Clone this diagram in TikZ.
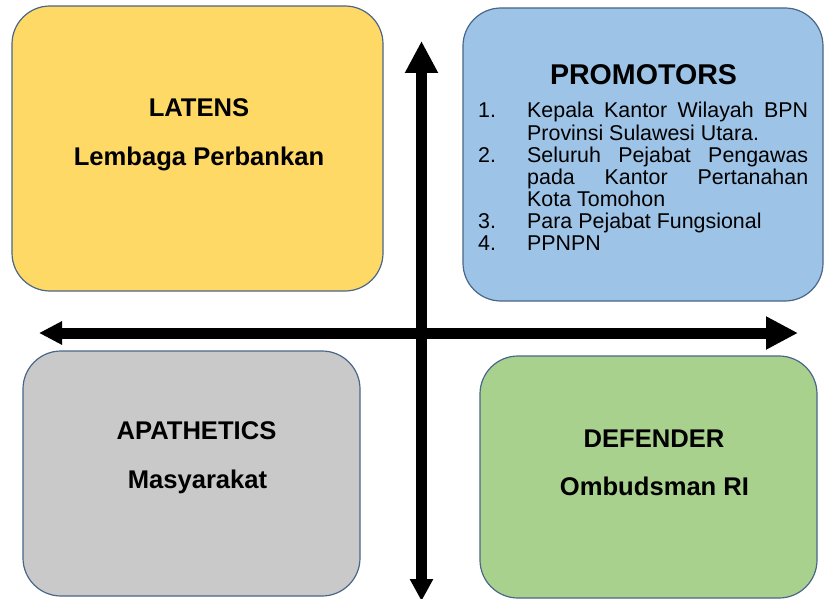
\documentclass[tikz,border=0pt]{standalone}
\usepackage{fontspec}
\setmainfont{Liberation Sans}
\usetikzlibrary{arrows.meta}
\definecolor{bordc}{HTML}{4A6688}
\definecolor{yellowc}{HTML}{FFD966}
\definecolor{bluec}{HTML}{9DC3E6}
\definecolor{greyc}{HTML}{C9C9C9}
\definecolor{greenc}{HTML}{A9D18E}
\tikzset{
  quad/.style={draw=bordc, line width=1.2pt, rounded corners=38pt, inner sep=0pt},
  titletext/.style={anchor=base, inner sep=0pt, font=\fontsize{25.6}{30}\selectfont\bfseries},
  axis/.style={line width=11pt},
}
\begin{document}
\begin{tikzpicture}[x=1pt,y=-1pt]
\useasboundingbox (0,0) rectangle (825,599);
\fill[white] (0,0) rectangle (825,599);
% boxes
\node[quad, fill=yellowc, minimum width=371pt, minimum height=285pt] (latens) at (197.5,148.5) {};
\node[quad, fill=bluec, minimum width=360pt, minimum height=293pt] (promotors) at (643,154.5) {};
\node[quad, fill=greyc, minimum width=337pt, minimum height=245pt] (apathetics) at (191.5,473.5) {};
\node[quad, fill=greenc, minimum width=337pt, minimum height=242pt] (defender) at (648.5,477) {};
% texts
\node[titletext] (latt) at (199,117) {LATENS};
\node[titletext] (lats) at (199,166) {Lembaga Perbankan};
\node[titletext] (apat) at (196.5,439) {APATHETICS};
\node[titletext] (apas) at (197.5,488) {Masyarakat};
\node[titletext] (deft) at (654,447) {DEFENDER};
\node[titletext] (defs) at (654.5,495) {Ombudsman RI};
\node[titletext, font=\fontsize{28.6}{32}\selectfont\bfseries] (prot) at (643.5,85) {PROMOTORS};
\node[anchor=base west, inner sep=0pt, font=\fontsize{21.4}{21.9}\selectfont] (prol) at (478,118) {%
\renewcommand{\arraystretch}{1}%
\begin{tabular}[t]{@{}l@{}l@{}}
\makebox[49pt][l]{1.} & \hbox to 281pt{Kepala\hfill Kantor\hfill Wilayah\hfill BPN}\\
 & Provinsi Sulawesi Utara.\\
\makebox[49pt][l]{2.} & \hbox to 281pt{Seluruh\hfill Pejabat\hfill Pengawas}\\
 & \hbox to 281pt{pada\hfill Kantor\hfill Pertanahan}\\
 & Kota Tomohon\\
\makebox[49pt][l]{3.} & Para Pejabat Fungsional\\
\makebox[49pt][l]{4.} & PPNPN
\end{tabular}};
% axes
\coordinate (vtop) at (421.5,41);
\coordinate (vbot) at (421.5,601);
\coordinate (hleft) at (39,333);
\coordinate (hright) at (798,333);
\draw[axis, {Triangle[length=22pt,width=22pt]}-{Triangle[length=32pt,width=31pt]}] (vbot) -- (vtop);
\draw[axis, {Triangle[length=23pt,width=22pt]}-{Triangle[length=32pt,width=31pt]}] (hleft) -- (hright);
\end{tikzpicture}
\end{document}
